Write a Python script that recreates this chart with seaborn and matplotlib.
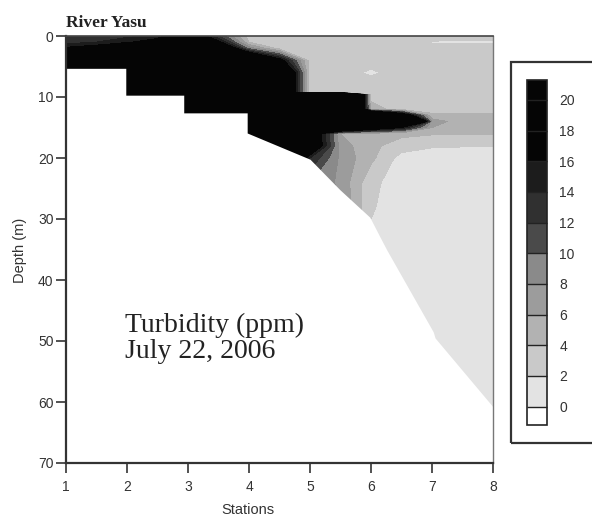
import numpy as np
import matplotlib
matplotlib.use("Agg")
import matplotlib.pyplot as plt
import seaborn as sns
from matplotlib.patches import Rectangle

# ---------------- data ----------------
stations = [1, 1.5, 2, 2.5, 3, 3.5, 4, 4.5, 5, 5.5, 6, 6.5, 7, 7.5, 8]
depths = [0, 1, 2, 4, 6, 8, 9.2, 9.6, 12, 13, 14, 15, 16, 18, 20, 24, 28, 35, 50, 62]
turbidity = [
    [12.5, 13, 13.5, 14.5, 22, 12, 3, 3, 3, 3, 3, 3, 3, 3, 3],          # 0 m
    [13, 14, 15.5, 18, 30, 17, 4, 3, 3, 3, 3, 3, 1.8, 1.7, 1.7],       # 1 m
    [16.5, 18, 22, 30, 30, 25, 9, 3, 3, 3, 3, 3, 3, 3, 3],             # 2 m
    [30, 30, 30, 30, 30, 30, 30, 18, 3, 3, 3, 3, 3, 3, 3],             # 4 m
    [30, 30, 30, 30, 30, 30, 30, 30, 3, 3, 1.6, 3, 3, 3, 3],           # 6 m
    [30, 30, 30, 30, 30, 30, 30, 30, 3, 3, 3, 3, 3, 3, 3],             # 8 m
    [30, 30, 30, 30, 30, 30, 30, 30, 3, 3, 3, 3, 3, 3, 3],             # 9.2 m
    [30, 30, 30, 30, 30, 30, 30, 30, 60, 60, 3, 3, 3, 3, 3],           # 9.6 m
    [30, 30, 30, 30, 30, 30, 30, 30, 60, 60, 5, 3, 3, 3, 3],           # 12 m
    [30, 30, 30, 30, 30, 30, 30, 30, 60, 60, 40, 22, 4.5, 4.5, 4.5],   # 13 m
    [30, 30, 30, 30, 30, 30, 30, 30, 60, 60, 60, 60, 7, 5, 5],         # 14 m
    [30, 30, 30, 30, 30, 30, 30, 30, 40, 30, 22, 16, 6, 5, 5],         # 15 m
    [30, 30, 30, 30, 30, 30, 30, 30, 22, 6, 4.5, 4.5, 4.2, 4.2, 4.2],  # 16 m
    [30, 30, 30, 30, 30, 30, 30, 30, 22, 7, 4.5, 3, 2.2, 2.1, 2.1],    # 18 m
    [30, 30, 30, 30, 30, 30, 30, 30, 14, 7.5, 4.5, 1.2, 1, 1, 1],      # 20 m
    [30, 30, 30, 30, 30, 30, 30, 30, 10, 7.5, 2.5, 1, 1, 1, 1],        # 24 m
    [30, 30, 30, 30, 30, 30, 30, 30, 10, 8, 2.2, 1, 1, 1, 1],          # 28 m
    [30, 30, 30, 30, 30, 30, 30, 30, 10, 8, 1.5, 1, 1, 1, 1],          # 35 m
    [30, 30, 30, 30, 30, 30, 30, 30, 10, 8, 1.5, 1, 1, 1, 1],          # 50 m
    [30, 30, 30, 30, 30, 30, 30, 30, 10, 8, 1.5, 1, 1, 1, 1],          # 62 m
]
bottom_station = [1, 1.98, 1.98, 2.93, 2.93, 3.97, 3.97, 5.0, 5.49, 5.98, 6.15, 6.26, 7.02, 7.05, 8]
bottom_depth = [5.3, 5.3, 9.7, 9.7, 12.6, 12.6, 15.9, 20.2, 25.2, 29.7, 33, 35.1, 48.5, 49.5, 60.8]
levels = [0, 2, 4, 6, 8, 10, 12, 14, 16, 18, 20]
station_ticks = [1, 2, 3, 4, 5, 6, 7, 8]
depth_ticks = [0, 10, 20, 30, 40, 50, 60, 70]

# colours: under, 10 bands, over
band_colors = ["#ffffff", "#e3e3e3", "#c9c9c9", "#b2b2b2", "#9c9c9c", "#8a8a8a",
               "#4a4a4a", "#303030", "#1c1c1c", "#050505", "#050505", "#050505"]

# ---------------- style ----------------
sns.set_style("ticks")
plt.rcParams["font.family"] = ["Liberation Sans", "DejaVu Sans"]
TXT = "#333333"

fig = plt.figure(figsize=(5.92, 5.16), dpi=100)
W, H = 592, 516
ax = fig.add_axes([66 / W, (H - 463) / H, 427 / W, 427 / H])

cs = ax.contourf(stations, depths, np.array(turbidity), levels=levels,
                 colors=band_colors, extend="both", zorder=1)
ax.fill_between(bottom_station, bottom_depth, 70, color="white", lw=0, zorder=1.5)

ax.set_xlim(1, 8)
ax.set_ylim(70, 0)
ax.set_xticks(station_ticks)
ax.set_yticks(depth_ticks)
ax.tick_params(axis="both", direction="out", length=7, width=1.2, color=TXT,
               labelsize=10, labelcolor=TXT)
ax.tick_params(axis="y", pad=2)
ax.tick_params(axis="x", pad=5)
for s in ["left", "bottom"]:
    ax.spines[s].set_linewidth(1.6)
    ax.spines[s].set_color(TXT)
ax.spines["top"].set_linewidth(1.2)
ax.spines["top"].set_color("#444444")
ax.spines["right"].set_linewidth(1.0)
ax.spines["right"].set_color("#777777")
for s in ax.spines.values():
    s.set_zorder(3)
ax.set_xlabel("")
ax.set_ylabel("")

fig.text(248 / W, (H - 510) / H, "Stations", ha="center", va="center",
         fontsize=10.5, color=TXT)
fig.text(20 / W, (H - 250) / H, "Depth (m)", ha="center", va="center",
         rotation=90, fontsize=10.5, color=TXT)
fig.text(66 / W, (H - 27) / H, "River Yasu", ha="left", va="baseline",
         fontsize=12.5, fontweight="bold", family=["Liberation Serif", "DejaVu Serif"],
         color="#222222")
ax.text(1.97, 48.5, "Turbidity (ppm)", ha="left", va="baseline", fontsize=20,
        family=["Liberation Serif", "DejaVu Serif"], color="#222222", zorder=4)
ax.text(1.97, 52.8, "July 22, 2006", ha="left", va="baseline", fontsize=20,
        family=["Liberation Serif", "DejaVu Serif"], color="#222222", zorder=4)

# legend frame
fig.add_artist(Rectangle((511 / W, (H - 443) / H), 0.3, 381 / H, transform=fig.transFigure,
                         fill=False, lw=1.6, ec=TXT, clip_on=False))

cax = fig.add_axes([527 / W, (H - 425) / H, 20 / W, 345 / H])
cbar = fig.colorbar(cs, cax=cax, extend="both", extendrect=True,
                    extendfrac=(0.06, 0.065), drawedges=True, ticks=levels)
cbar.outline.set_linewidth(1.2)
cbar.outline.set_edgecolor("#222222")
cbar.dividers.set_color("#222222")
cbar.dividers.set_linewidth(1.0)
cax.tick_params(length=0, pad=9, labelsize=10, labelcolor=TXT)

fig.savefig("out.png", dpi=100)
